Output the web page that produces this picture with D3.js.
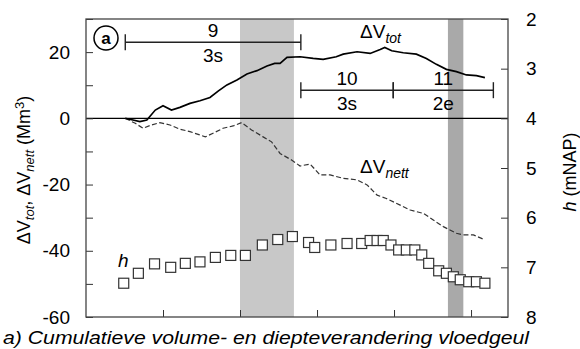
<!DOCTYPE html>
<meta charset="utf-8">
<title>Cumulatieve volume- en diepteverandering</title>
<style>
body { margin: 0; background: #fff; }
text { font-family: "Liberation Sans", Arial, sans-serif; fill: #000; }
.tick line { stroke: #333; }
.axis path { display: none; }
</style>
<body>
<script src="https://d3js.org/d3.v7.min.js"></script>
<script>

// time (tick units) and cumulative volumes (Mm3)
var tTot = [0.51, 0.61, 0.70, 0.79, 0.90, 1.00, 1.11, 1.22, 1.35, 1.48, 1.61, 1.72, 1.83, 1.96, 2.09, 2.22, 2.35, 2.45, 2.52, 2.61,
            2.78, 2.95, 3.08, 3.25, 3.34, 3.52, 3.69, 3.82, 3.88, 3.97, 4.12, 4.29, 4.42, 4.55, 4.68, 4.81, 4.94, 5.07, 5.18];
var vTot = [0, -0.5, -1.0, -0.5, 2.5, 3.8, 2.5, 3.3, 4.5, 5.3, 6.3, 8.3, 10.1, 11.6, 13.4, 14.4, 15.8, 16.6, 16.6, 18.4,
            18.6, 18.1, 17.8, 18.6, 19.4, 20.1, 19.6, 20.8, 21.4, 20.4, 19.8, 19.4, 18.1, 16.3, 14.8, 14.1, 13.1, 12.9, 12.3];

var tNett = [0.51, 0.64, 0.74, 0.85, 0.96, 1.09, 1.22, 1.35, 1.55, 1.65, 1.78, 1.91, 2.02, 2.15, 2.30, 2.41, 2.52, 2.67,
             2.78, 2.91, 3.04, 3.17, 3.34, 3.52, 3.65, 3.78, 3.90, 4.08, 4.21, 4.38, 4.51, 4.64, 4.81, 4.90, 5.03, 5.18];
var vNett = [0, -1.5, -3.0, -2.0, -1.3, -2.0, -3.3, -4.0, -5.6, -4.5, -3.0, -2.3, -1.3, -3.5, -5.6, -7.1, -10.6, -12.6,
             -14.4, -13.8, -17.1, -17.1, -18.1, -18.6, -20.1, -23.2, -24.2, -26.2, -27.7, -28.7, -30.7, -32.7, -34.7, -35.2, -35.2, -36.7];

// depth h (mNAP)
var tH = [0.49, 0.68, 0.89, 1.10, 1.29, 1.48, 1.68, 1.88, 2.07, 2.29, 2.49, 2.68, 2.89, 2.97, 3.18, 3.39, 3.58,
          3.69, 3.78, 3.86, 3.96, 4.06, 4.16, 4.27, 4.36, 4.45, 4.58, 4.68, 4.77, 4.86, 4.97, 5.07, 5.18];
var hVal = [7.32, 7.12, 6.93, 7.00, 6.92, 6.89, 6.80, 6.76, 6.76, 6.55, 6.44, 6.38, 6.50, 6.60, 6.55, 6.52, 6.52,
            6.46, 6.46, 6.46, 6.55, 6.65, 6.65, 6.65, 6.75, 6.92, 7.07, 7.12, 7.19, 7.25, 7.29, 7.29, 7.32];

// shaded periods
var bandStart = [2.0, 4.70];
var bandEnd = [2.70, 4.90];
var bandColor = ["#c8c8c8", "#a9a9a9"];

// periods with labels
var perStart = [0.51, 2.79, 3.99];
var perEnd = [2.79, 3.99, 5.29];
var perTop = ["9", "10", "11"];
var perBottom = ["3s", "3s", "2e"];
var perLevel = [23, 8.5, 8.5];

var leftTicks = d3.range(-60, 31, 10);
var rightTicks = [2, 3, 4, 5, 6, 7, 8];
var xTicks = [1, 2, 3, 4, 5];

var margin = {top: 19, right: 72, bottom: 32, left: 86},
    width = 580 - margin.left - margin.right,
    height = 349 - margin.top - margin.bottom;

var svg = d3.select("body").append("svg")
    .attr("width", 580)
    .attr("height", 349);

var g = svg.append("g")
    .attr("transform", "translate(" + margin.left + "," + margin.top + ")");

var x = d3.scaleLinear().domain([0, 5.48]).range([0, width]);
var y = d3.scaleLinear().domain([-60, 30]).range([height, 0]);
var yh = d3.scaleLinear().domain([2, 8]).range([0, height]);

// bands
g.selectAll(".band")
    .data(bandStart)
    .enter().append("rect")
    .attr("x", function(d) { return x(d); })
    .attr("y", 0)
    .attr("width", function(d, i) { return x(bandEnd[i]) - x(d); })
    .attr("height", height)
    .attr("fill", function(d, i) { return bandColor[i]; });

// zero line
g.append("line")
    .attr("x1", 0).attr("x2", width)
    .attr("y1", y(0)).attr("y2", y(0))
    .attr("stroke", "#000").attr("stroke-width", 1.2);

// axes, ticks pointing inward
g.append("g").attr("class", "axis")
    .call(d3.axisLeft(y).tickValues(leftTicks).tickSize(-7).tickPadding(16)
        .tickFormat(function(d) { return d % 20 === 0 ? String(d) : ""; }))
    .selectAll("text").style("font-size", "19px");

g.append("g").attr("class", "axis")
    .attr("transform", "translate(" + width + ",0)")
    .call(d3.axisRight(yh).tickValues(rightTicks).tickSize(-7).tickPadding(18)
        .tickFormat(d3.format("d")))
    .selectAll("text").style("font-size", "19px");

g.append("g").attr("class", "axis")
    .attr("transform", "translate(0," + height + ")")
    .call(d3.axisBottom(x).tickValues(xTicks).tickSize(-7).tickFormat(""));

// frame
g.append("rect")
    .attr("width", width).attr("height", height)
    .attr("fill", "none").attr("stroke", "#444").attr("stroke-width", 1.3);

// lines
var lineTot = d3.line()
    .x(function(d, i) { return x(tTot[i]); })
    .y(function(d) { return y(d); });
var lineNett = d3.line()
    .x(function(d, i) { return x(tNett[i]); })
    .y(function(d) { return y(d); });

g.append("path").datum(vNett)
    .attr("d", lineNett)
    .attr("fill", "none").attr("stroke", "#333")
    .attr("stroke-width", 1.2).attr("stroke-dasharray", "5,2.5");

g.append("path").datum(vTot)
    .attr("d", lineTot)
    .attr("fill", "none").attr("stroke", "#000").attr("stroke-width", 1.7);

// h squares
g.selectAll(".sq")
    .data(hVal)
    .enter().append("rect")
    .attr("x", function(d, i) { return x(tH[i]) - 5; })
    .attr("y", function(d) { return yh(d) - 5; })
    .attr("width", 10).attr("height", 10)
    .attr("fill", "#fff").attr("stroke", "#333").attr("stroke-width", 1.2);

// period brackets
var per = g.selectAll(".per")
    .data(perStart)
    .enter().append("g");

per.append("line")
    .attr("x1", function(d) { return x(d); })
    .attr("x2", function(d, i) { return x(perEnd[i]); })
    .attr("y1", function(d, i) { return y(perLevel[i]); })
    .attr("y2", function(d, i) { return y(perLevel[i]); })
    .attr("stroke", "#222").attr("stroke-width", 1.4);

per.selectAll(".cap")
    .data(function(d, i) { return [[d, perLevel[i]], [perEnd[i], perLevel[i]]]; })
    .enter().append("line")
    .attr("x1", function(d) { return x(d[0]); })
    .attr("x2", function(d) { return x(d[0]); })
    .attr("y1", function(d) { return y(d[1]) - 8; })
    .attr("y2", function(d) { return y(d[1]) + 8; })
    .attr("stroke", "#222").attr("stroke-width", 1.4);

per.append("text")
    .attr("x", function(d, i) { return x((d + perEnd[i]) / 2); })
    .attr("y", function(d, i) { return y(perLevel[i]) - 5; })
    .attr("text-anchor", "middle")
    .style("font-size", "19px")
    .text(function(d, i) { return perTop[i]; });

per.append("text")
    .attr("x", function(d, i) { return x((d + perEnd[i]) / 2); })
    .attr("y", function(d, i) { return y(perLevel[i]) + 20; })
    .attr("text-anchor", "middle")
    .style("font-size", "19px")
    .text(function(d, i) { return perBottom[i]; });

// circled a
g.append("circle")
    .attr("cx", 20).attr("cy", 19).attr("r", 12)
    .attr("fill", "#fff").attr("stroke", "#000").attr("stroke-width", 1.5);
g.append("text")
    .attr("x", 20).attr("y", 25)
    .attr("text-anchor", "middle")
    .style("font-size", "17px").style("font-weight", "bold")
    .text("a");

// series labels
function deltaLabel(sel, sub) {
    sel.append("tspan").text("\u0394V");
    sel.append("tspan").attr("dy", 5).style("font-size", "14px")
        .style("font-style", "italic").text(sub);
}
var lt = g.append("text").attr("x", 274).attr("y", 19).style("font-size", "19px");
deltaLabel(lt, "tot");
var ln = g.append("text").attr("x", 274).attr("y", 154).style("font-size", "19px");
deltaLabel(ln, "nett");

g.append("text")
    .attr("x", 32).attr("y", 248)
    .style("font-size", "19px").style("font-style", "italic")
    .text("h");

// left axis title
var yl = svg.append("text")
    .attr("transform", "translate(30,170) rotate(-90)")
    .attr("text-anchor", "middle")
    .style("font-size", "18px");
yl.append("tspan").text("\u0394V");
yl.append("tspan").attr("dy", 4).style("font-size", "13px").style("font-style", "italic").text("tot");
yl.append("tspan").attr("dy", -4).text(", \u0394V");
yl.append("tspan").attr("dy", 4).style("font-size", "13px").style("font-style", "italic").text("nett");
yl.append("tspan").attr("dy", -4).text(" (Mm");
yl.append("tspan").attr("dy", -6).style("font-size", "13px").text("3");
yl.append("tspan").attr("dy", 6).text(")");

// right axis title
var yr = svg.append("text")
    .attr("transform", "translate(576,172) rotate(-90)")
    .attr("text-anchor", "middle")
    .style("font-size", "18px");
yr.append("tspan").style("font-style", "italic").text("h");
yr.append("tspan").text(" (mNAP)");

// caption (stretched wide, like the original)
svg.append("text")
    .attr("x", 3).attr("y", 344)
    .attr("textLength", 526).attr("lengthAdjust", "spacingAndGlyphs")
    .style("font-size", "18px").style("font-style", "italic")
    .text("a) Cumulatieve volume- en diepteverandering vloedgeul");

</script>
</body>
